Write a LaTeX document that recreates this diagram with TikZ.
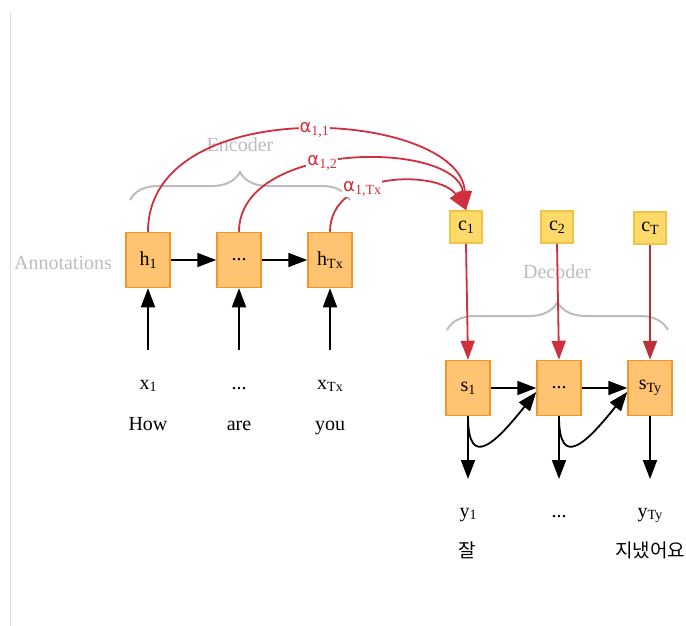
\documentclass[tikz,border=0pt]{standalone}
\usepackage{fontspec}
\setmainfont{Liberation Serif}
\newfontfamily\kofont{Noto Sans CJK KR}
\newfontfamily\grfont{DejaVu Sans}
\usetikzlibrary{arrows.meta,decorations.pathreplacing}
\definecolor{boxfill}{HTML}{FFC371}
\definecolor{boxline}{HTML}{F3962A}
\definecolor{cfill}{HTML}{FFDA68}
\definecolor{cline}{HTML}{F2C445}
\definecolor{attred}{HTML}{D0303E}
\definecolor{attred2}{HTML}{B8323C}
\definecolor{lightgray}{HTML}{BDBDBD}
\definecolor{frame}{HTML}{DEDEDE}
\newcommand\mysub[1]{\raisebox{-0.3ex}{\fontsize{14}{14}\selectfont #1}}
\begin{document}
\begin{tikzpicture}[x=1pt,y=-1pt,
  hbox/.style={draw=boxline, fill=boxfill, line width=1.5pt, minimum width=44pt, minimum height=55pt, inner sep=0pt, font=\fontsize{20}{22}\selectfont},
  cbox/.style={draw=cline, fill=cfill, line width=1.5pt, minimum width=32pt, minimum height=32pt, inner sep=0pt, font=\fontsize{20}{22}\selectfont},
  lbl/.style={inner sep=1pt, anchor=base, font=\fontsize{20}{22}\selectfont},
  glbl/.style={inner sep=1pt, text=lightgray, font=\fontsize{20}{24}\selectfont},
  kolbl/.style={inner sep=1pt, anchor=base, font=\kofont\fontsize{19}{22}\selectfont},
  arr/.style={line width=1.8pt, -{Triangle[length=19pt, width=14pt]}},
  redarr/.style={arr, draw=attred},
  alab/.style={fill=white, inner sep=1pt, text=attred, font=\fontsize{20}{22}\selectfont},
  bracestyle/.style={draw=lightgray, line width=2pt, decorate, decoration={brace, amplitude=28pt, aspect=0.5}},
]
\useasboundingbox (0,0) rectangle (686,626);
\fill[white] (0,0) rectangle (686,626);
\draw[frame, line width=1pt] (10.5,12) -- (10.5,626);

% encoder
\node[hbox] (h1) at (148,260) {h\mysub{1}};
\node[hbox] (h2) at (239,260) {...};
\node[hbox] (h3) at (330,260) {h\mysub{Tx}};
\node[glbl] (ann) at (63,263) {Annotations};

\node[lbl] (x1) at (148,389) {x\mysub{1}};
\node[lbl] (x2) at (239,389) {...};
\node[lbl] (x3) at (330,389) {x\mysub{Tx}};
\node[lbl] (w1) at (148,430) {How};
\node[lbl] (w2) at (239,430) {are};
\node[lbl] (w3) at (330,430) {you};

\coordinate (i1) at (148,350);
\coordinate (i2) at (239,350);
\coordinate (i3) at (330,350);
\draw[arr] (i1) -- (h1.south);
\draw[arr] (i2) -- (h2.south);
\draw[arr] (i3) -- (h3.south);
\draw[arr] (h1.east) -- (h2.west);
\draw[arr] (h2.east) -- (h3.west);

\coordinate (eb1) at (130,200);
\coordinate (eb2) at (350,200);
\draw[bracestyle] (eb1) -- (eb2);
\node[glbl] (enc) at (240,145) {Encoder};

% decoder
\node[cbox] (c1) at (466,227) {c\mysub{1}};
\node[cbox] (c2) at (557,227) {c\mysub{2}};
\node[cbox] (c3) at (650,228) {c\mysub{T}};

\coordinate (db1) at (447,330);
\coordinate (db2) at (668,330);
\draw[bracestyle] (db1) -- (db2);
\node[glbl] (dec) at (557,272) {Decoder};

\node[hbox] (s1) at (468,388) {s\mysub{1}};
\node[hbox] (s2) at (559,388) {...};
\node[hbox] (s3) at (650,388) {s\mysub{Ty}};

\draw[redarr] (c1.south) -- (s1.north);
\draw[redarr] (c2.south) -- (s2.north);
\draw[arr, draw=attred2] (c3.south) -- (s3.north);

\draw[arr] (s1.east) -- (s2.west);
\draw[arr] (s2.east) -- (s3.west);
\draw[arr] (s1.south) .. controls +(0,55) and +(-40,50) .. ([yshift=-4pt]s2.west);
\draw[arr] (s2.south) .. controls +(0,55) and +(-40,50) .. ([yshift=-4pt]s3.west);

\coordinate (o1) at (468,479);
\coordinate (o2) at (559,479);
\coordinate (o3) at (650,479);
\draw[arr] (s1.south) -- (o1);
\draw[arr] (s2.south) -- (o2);
\draw[arr] (s3.south) -- (o3);

\node[lbl] (y1) at (468,517) {y\mysub{1}};
\node[lbl] (y2) at (559,517) {...};
\node[lbl] (y3) at (650,517) {y\mysub{Ty}};
\node[kolbl] (k1) at (467,557) {잘};
\node[kolbl] (k3) at (650,557) {지냈어요};

% attention
\draw[redarr] (h1.north) .. controls (148,90) and (460,110) .. node[alab, pos=0.52] (a1) {{\grfont\fontsize{18}{20}\selectfont α}\mysub{1,1}} (c1.north);
\draw[redarr] (h2.north) .. controls (239,140) and (455,140) .. node[alab, pos=0.42] (a2) {{\grfont\fontsize{18}{20}\selectfont α}\mysub{1,2}} (c1.north);
\draw[redarr] (h3.north) .. controls (330,170) and (440,170) .. node[alab, pos=0.35] (a3) {{\grfont\fontsize{18}{20}\selectfont α}\mysub{1,Tx}} (c1.north);
\end{tikzpicture}
\end{document}
